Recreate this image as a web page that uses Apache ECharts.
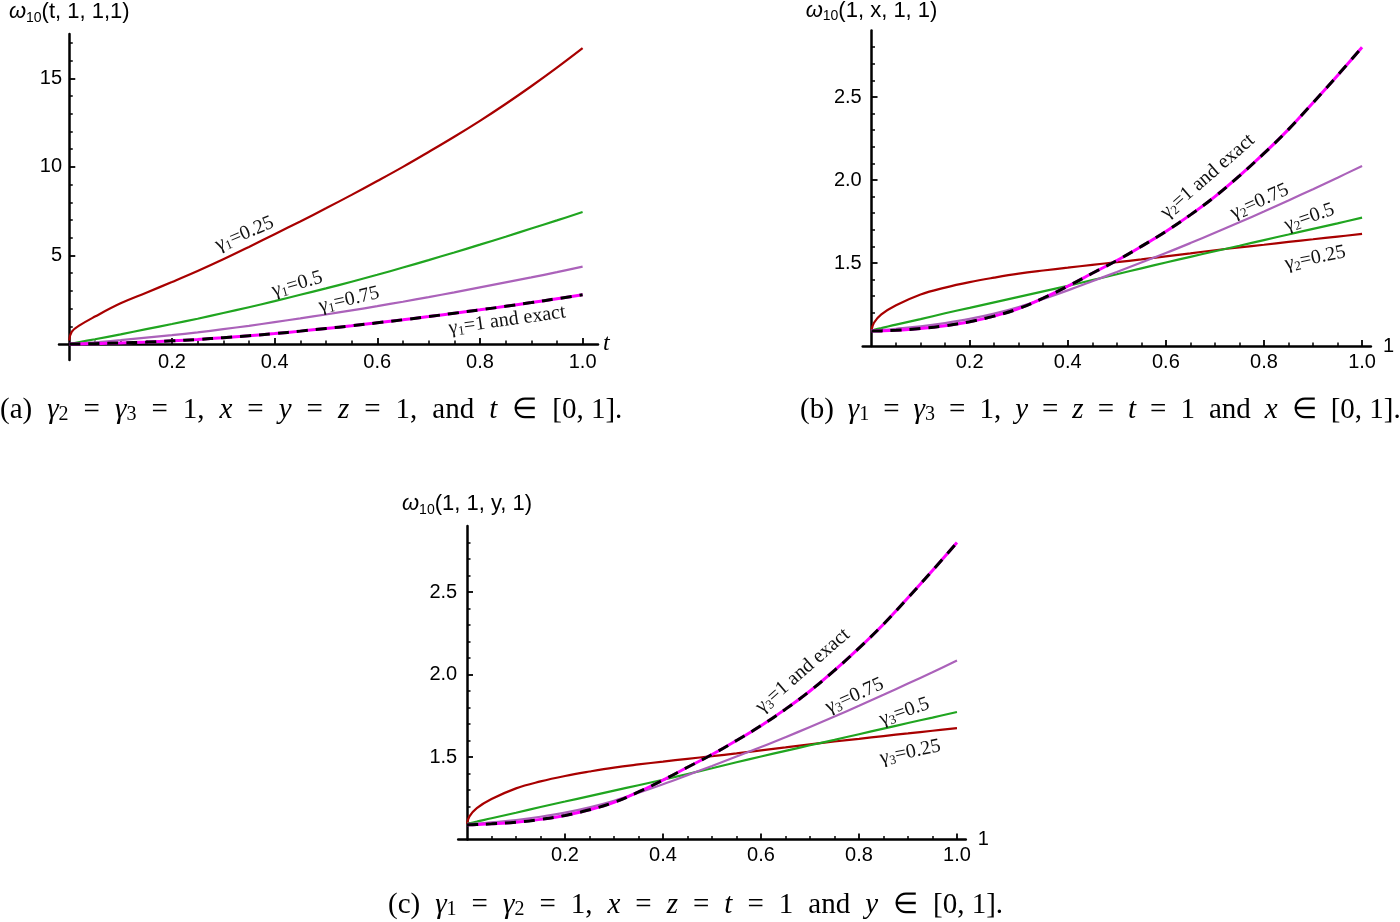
<!DOCTYPE html>
<html><head><meta charset="utf-8">
<script src="https://cdn.jsdelivr.net/npm/echarts@6/dist/echarts.min.js"></script>
<style>html,body{margin:0;padding:0;background:#fff}#c{width:1400px;height:922px}</style>
</head><body><div id="c"></div>
<script>
// ---------- DATA ----------
const xs = [0, 0.005, 0.02, 0.05, 0.1, 0.15, 0.2, 0.25, 0.3, 0.35, 0.4, 0.45, 0.5, 0.55, 0.6, 0.65, 0.7, 0.75, 0.8, 0.85, 0.9, 0.95, 1.0];

// (a) omega10(t,1,1,1)
const aGamma025 = [0.2, 0.7, 1.05, 1.55, 2.3, 2.9, 3.5, 4.12, 4.78, 5.48, 6.2, 6.92, 7.66, 8.42, 9.2, 10.0, 10.84, 11.7, 12.6, 13.55, 14.55, 15.6, 16.7];
const aGamma050 = [0, 0.03, 0.11, 0.27, 0.55, 0.84, 1.13, 1.43, 1.75, 2.08, 2.42, 2.78, 3.14, 3.52, 3.91, 4.32, 4.74, 5.17, 5.61, 6.06, 6.52, 6.98, 7.45];
const aGamma075 = [0, 0.01, 0.03, 0.1, 0.22, 0.36, 0.5, 0.66, 0.84, 1.03, 1.24, 1.45, 1.67, 1.9, 2.14, 2.39, 2.65, 2.92, 3.2, 3.48, 3.76, 4.06, 4.37];
const aExact    = [0, 0, 0.005, 0.02, 0.06, 0.11, 0.18, 0.26, 0.36, 0.47, 0.59, 0.73, 0.88, 1.03, 1.2, 1.37, 1.55, 1.74, 1.93, 2.13, 2.34, 2.56, 2.78];

// (b) omega10(1,x,1,1)
const bGamma025 = [1.095, 1.14, 1.19, 1.245, 1.31, 1.352, 1.385, 1.412, 1.436, 1.455, 1.472, 1.489, 1.505, 1.522, 1.54, 1.558, 1.577, 1.594, 1.61, 1.627, 1.643, 1.659, 1.675];
const bGamma050 = [1.095, 1.098, 1.108, 1.129, 1.162, 1.197, 1.23, 1.263, 1.296, 1.329, 1.362, 1.397, 1.432, 1.468, 1.503, 1.537, 1.571, 1.604, 1.638, 1.672, 1.706, 1.739, 1.773];
const bGamma075 = [1.095, 1.095, 1.097, 1.104, 1.118, 1.138, 1.163, 1.195, 1.235, 1.283, 1.335, 1.39, 1.446, 1.503, 1.56, 1.62, 1.682, 1.745, 1.81, 1.877, 1.945, 2.014, 2.085];
const bExact    = [1.09, 1.09, 1.091, 1.095, 1.105, 1.122, 1.146, 1.18, 1.225, 1.288, 1.36, 1.438, 1.515, 1.6, 1.69, 1.79, 1.9, 2.025, 2.16, 2.305, 2.465, 2.63, 2.8];

// (c) omega10(1,1,y,1)
const cGamma025 = [1.095, 1.14, 1.19, 1.245, 1.31, 1.352, 1.385, 1.412, 1.436, 1.455, 1.472, 1.489, 1.505, 1.522, 1.54, 1.558, 1.577, 1.594, 1.61, 1.627, 1.643, 1.659, 1.675];
const cGamma050 = [1.095, 1.098, 1.108, 1.129, 1.162, 1.197, 1.23, 1.263, 1.296, 1.329, 1.362, 1.397, 1.432, 1.468, 1.503, 1.537, 1.571, 1.604, 1.638, 1.672, 1.706, 1.739, 1.773];
const cGamma075 = [1.095, 1.095, 1.097, 1.104, 1.118, 1.138, 1.163, 1.195, 1.235, 1.283, 1.335, 1.39, 1.446, 1.503, 1.56, 1.62, 1.682, 1.745, 1.81, 1.877, 1.945, 2.014, 2.085];
const cExact    = [1.09, 1.09, 1.091, 1.095, 1.105, 1.122, 1.146, 1.18, 1.225, 1.288, 1.36, 1.438, 1.515, 1.6, 1.69, 1.79, 1.9, 2.025, 2.16, 2.305, 2.465, 2.63, 2.8];

// tick values
const xMajor = [0.2, 0.4, 0.6, 0.8, 1.0];
const xMinor = [0.05, 0.1, 0.15, 0.25, 0.3, 0.35, 0.45, 0.5, 0.55, 0.65, 0.7, 0.75, 0.85, 0.9, 0.95];
const aYMajor = [5, 10, 15];
const aYMinor = [1, 2, 3, 4, 6, 7, 8, 9, 11, 12, 13, 14, 16, 17];
const bYMajor = [1.5, 2.0, 2.5];
const bYMinor = [1.1, 1.2, 1.3, 1.4, 1.6, 1.7, 1.8, 1.9, 2.1, 2.2, 2.3, 2.4, 2.6, 2.7, 2.8];

// ---------- STYLE ----------
const COL = {g025: '#a80000', g050: '#20a520', g075: '#ab62ba', mag: '#ff00ff', blk: '#000000'};
const SANS = '"Liberation Sans", Arial, sans-serif';
const SERIF = '"Liberation Serif", "Times New Roman", serif';

const labRich = {
  g: {fontFamily: SERIF, fontSize: 20, color: '#111', lineHeight: 22},
  s: {fontFamily: SERIF, fontSize: 13, color: '#111', verticalAlign: 'bottom', lineHeight: 13}
};

function pts(xArr, yArr) { return xArr.map((x, i) => [x, yArr[i]]); }
function labelled(data, atX, cfg) {
  const i = xs.indexOf(atX);
  data[i] = {value: data[i], label: {
    show: true, position: cfg.pos, distance: cfg.dist, rotate: cfg.rot,
    formatter: () => cfg.text, rich: labRich
  }};
  return data;
}
function lineSeries(gi, yArr, color, width, lab, dashed) {
  let data = pts(xs, yArr);
  if (lab) data = labelled(data, lab.at, lab);
  return {
    type: 'line', xAxisIndex: 2 * gi, yAxisIndex: 2 * gi, data,
    smooth: 0.4, showSymbol: true, symbol: 'circle', symbolSize: 0.1,
    itemStyle: {color: color}, label: {show: false},
    lineStyle: {color, width, type: dashed ? [11, 8] : 'solid', cap: 'butt'},
    emphasis: {disabled: true}, silent: true, z: 3
  };
}
function sub(gs, num, rest) { return '{g|' + gs + '}{s|' + num + '}{g|' + rest + '}'; }

const labA = {
  g025: {at: 0.35, pos: 'top', dist: 3, rot: 23, text: sub('γ', '1', '=0.25')},
  g050: {at: 0.45, pos: 'top', dist: 0, rot: 16, text: sub('γ', '1', '=0.5')},
  g075: {at: 0.55, pos: 'top', dist: 0, rot: 13, text: sub('γ', '1', '=0.75')},
  ex:   {at: 0.85, pos: 'bottom', dist: 3, rot: 8, text: sub('γ', '1', '=1 and exact')}
};
function labBC(k) {
  return {
    g025: {at: 0.9, pos: 'bottom', dist: 8, rot: 12, text: sub('γ', k, '=0.25')},
    g050: {at: 0.9, pos: 'top', dist: 1, rot: 19, text: sub('γ', k, '=0.5')},
    g075: {at: 0.8, pos: 'top', dist: 0, rot: 24, text: sub('γ', k, '=0.75')},
    ex:   {at: 0.7, pos: 'top', dist: 12, rot: 41, text: sub('γ', k, '=1 and exact')}
  };
}
const labB = labBC('2'), labC = labBC('3');

const grids = [
  {left: 59, top: 34, width: 539, height: 326},
  {left: 862.7, top: 30.6, width: 508.2, height: 315.4},
  {left: 458.2, top: 526, width: 507.6, height: 313.5}
].map(g => Object.assign({outerBoundsMode: 'none', containLabel: false}, g));

const nameRich = {
  w: {fontFamily: SANS, fontSize: 22, fontStyle: 'italic', color: '#000', lineHeight: 26},
  s: {fontFamily: SANS, fontSize: 14, color: '#000', verticalAlign: 'bottom', lineHeight: 15},
  n: {fontFamily: SANS, fontSize: 22, color: '#000', lineHeight: 26}
};

function axes(gi, cfg) {
  const lineSt = {color: '#000', width: 2.5};
  const lbl = {color: '#000', fontFamily: SANS, fontSize: 20};
  const xMain = {
    gridIndex: gi, type: 'value', min: cfg.xr[0], max: cfg.xr[1], position: 'bottom',
    axisLine: {show: true, onZero: true, onZeroAxisIndex: 2 * gi, lineStyle: lineSt},
    axisTick: {show: true, inside: true, length: 6, customValues: xMajor, lineStyle: {color: '#000', width: 1.8}},
    axisLabel: Object.assign({show: true, customValues: xMajor, margin: cfg.xMargin, formatter: v => v.toFixed(1)}, lbl),
    splitLine: {show: false},
    name: cfg.xName, nameLocation: 'end', nameGap: cfg.xNameGap, nameTextStyle: cfg.xNameStyle
  };
  const xMinorAx = {
    gridIndex: gi, type: 'value', min: cfg.xr[0], max: cfg.xr[1], position: 'bottom',
    axisLine: {show: false, onZero: true, onZeroAxisIndex: 2 * gi},
    axisTick: {show: true, inside: true, length: 3.5, customValues: xMinor, lineStyle: {color: '#000', width: 1.5}},
    axisLabel: {show: false}, splitLine: {show: false}
  };
  const yMain = {
    gridIndex: gi, type: 'value', min: cfg.yr[0], max: cfg.yr[1], position: 'left',
    axisLine: {show: true, onZero: true, onZeroAxisIndex: 2 * gi, lineStyle: lineSt},
    axisTick: {show: true, inside: true, length: 6, customValues: cfg.yMaj, lineStyle: {color: '#000', width: 1.8}},
    axisLabel: Object.assign({show: true, customValues: cfg.yMaj, margin: cfg.yMargin, formatter: cfg.yFmt}, lbl),
    splitLine: {show: false},
    name: cfg.yName, nameLocation: 'end', nameGap: cfg.yNameGap,
    nameTextStyle: {align: 'center', verticalAlign: 'bottom', rich: nameRich}
  };
  const yMinorAx = {
    gridIndex: gi, type: 'value', min: cfg.yr[0], max: cfg.yr[1], position: 'left',
    axisLine: {show: false, onZero: true, onZeroAxisIndex: 2 * gi},
    axisTick: {show: true, inside: true, length: 3.5, customValues: cfg.yMin, lineStyle: {color: '#000', width: 1.5}},
    axisLabel: {show: false}, splitLine: {show: false}
  };
  return {x: [xMain, xMinorAx], y: [yMain, yMinorAx]};
}

const axA = axes(0, {xr: [-0.02, 1.03], yr: [-0.9, 17.5], yMaj: aYMajor, yMin: aYMinor, yFmt: v => String(v),
  xMargin: -8, yMargin: -3, yNameGap: 9,
  xName: 't', xNameStyle: {fontFamily: SERIF, fontStyle: 'italic', fontSize: 24, color: '#000', verticalAlign: 'middle'}, xNameGap: 5,
  yName: '{w|ω}{s|10}{n|(t, 1, 1,1)}'});
const axB = axes(1, {xr: [-0.018, 1.018], yr: [1.0, 2.9], yMaj: bYMajor, yMin: bYMinor, yFmt: v => v.toFixed(1),
  xMargin: 6, yMargin: 1, yNameGap: 7,
  xName: '1', xNameStyle: {fontFamily: SANS, fontSize: 20, color: '#000', verticalAlign: 'middle'}, xNameGap: 12,
  yName: '{w|ω}{s|10}{n|(1, x, 1, 1)}'});
const axC = axes(2, {xr: [-0.018, 1.018], yr: [1.0, 2.9], yMaj: bYMajor, yMin: bYMinor, yFmt: v => v.toFixed(1),
  xMargin: 6, yMargin: 1, yNameGap: 9,
  xName: '1', xNameStyle: {fontFamily: SANS, fontSize: 20, color: '#000', verticalAlign: 'middle'}, xNameGap: 12,
  yName: '{w|ω}{s|10}{n|(1, 1, y, 1)}'});

function chartSeries(gi, g025, g050, g075, ex, lab) {
  return [
    lineSeries(gi, g025, COL.g025, 2.2, lab.g025),
    lineSeries(gi, g050, COL.g050, 2.2, lab.g050),
    lineSeries(gi, g075, COL.g075, 2.2, lab.g075),
    lineSeries(gi, ex, COL.mag, 3, null),
    lineSeries(gi, ex, COL.blk, 3, lab.ex, true)
  ];
}

function capRich(gap) {
  return {
    i: {fontFamily: SERIF, fontStyle: 'italic', fontSize: 29, color: '#000'},
    s: {fontFamily: SERIF, fontSize: 20, color: '#000', verticalAlign: 'bottom', lineHeight: 16},
    n: {fontFamily: SERIF, fontSize: 29, color: '#000'},
    w: {fontFamily: SERIF, fontSize: 29, width: gap}
  };
}
function cap(x, y, text, gap) {
  return {type: 'text', x, y, silent: true,
    style: {text, rich: capRich(gap), font: '29px ' + SERIF, fill: '#000', verticalAlign: 'middle', align: 'left'}};
}
const G = '{w| }';
const capA = '{n|(a)}' + G + '{i|γ}{s|2}' + G + '{n|=}' + G + '{i|γ}{s|3}' + G + '{n|=}' + G + '{n|1,}' + G +
  '{i|x}' + G + '{n|=}' + G + '{i|y}' + G + '{n|=}' + G + '{i|z}' + G + '{n|=}' + G + '{n|1,}' + G + '{n|and}' + G +
  '{i|t}' + G + '{n|∈}' + G + '{n|[0, 1].}';
const capB = '{n|(b)}' + G + '{i|γ}{s|1}' + G + '{n|=}' + G + '{i|γ}{s|3}' + G + '{n|=}' + G + '{n|1,}' + G +
  '{i|y}' + G + '{n|=}' + G + '{i|z}' + G + '{n|=}' + G + '{i|t}' + G + '{n|=}' + G + '{n|1}' + G + '{n|and}' + G +
  '{i|x}' + G + '{n|∈}' + G + '{n|[0, 1].}';
const capC = '{n|(c)}' + G + '{i|γ}{s|1}' + G + '{n|=}' + G + '{i|γ}{s|2}' + G + '{n|=}' + G + '{n|1,}' + G +
  '{i|x}' + G + '{n|=}' + G + '{i|z}' + G + '{n|=}' + G + '{i|t}' + G + '{n|=}' + G + '{n|1}' + G + '{n|and}' + G +
  '{i|y}' + G + '{n|∈}' + G + '{n|[0, 1].}';

const option = {
  animation: false,
  backgroundColor: '#fff',
  grid: grids,
  xAxis: [...axA.x, ...axB.x, ...axC.x],
  yAxis: [...axA.y, ...axB.y, ...axC.y],
  series: [
    ...chartSeries(0, aGamma025, aGamma050, aGamma075, aExact, labA),
    ...chartSeries(1, bGamma025, bGamma050, bGamma075, bExact, labB),
    ...chartSeries(2, cGamma025, cGamma050, cGamma075, cExact, labC)
  ],
  graphic: [
    cap(0, 410, capA, 15),
    cap(800, 410, capB, 14),
    cap(388, 905, capC, 15)
  ]
};

const chart = echarts.init(document.getElementById('c'), null, {renderer: 'canvas'});
chart.setOption(option);
</script>
</body></html>
